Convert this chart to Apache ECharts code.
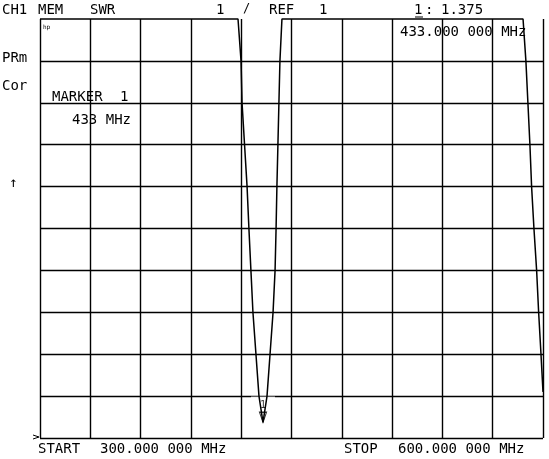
<!DOCTYPE html>
<html><head><meta charset="utf-8">
<script src="https://cdn.jsdelivr.net/npm/echarts@6/dist/echarts.min.js"></script>
<style>html,body{margin:0;padding:0;background:#fff;}#c{width:549px;height:459px;}</style>
</head><body><div id="c"></div>
<script>
// Trace: frequency (MHz) and SWR values (clipped at 11 by the instrument)
const freqMHz = [300, 418.1, 419.9, 420.5, 422.0, 423.5, 424.6, 425.8, 427.0, 428.8, 430.6, 433.0,
  435.4, 437.2, 439.0, 440.2, 440.8, 441.3, 441.9, 442.5, 443.1, 444.3,
  588.1, 589.8, 591.0, 592.2, 593.2, 594.6, 596.2, 597.4, 598.8, 600];
const swr = [11, 11, 10, 9, 8, 7, 6, 5, 4, 3, 2, 1.375,
  2, 3, 4, 5, 6, 7, 8, 9, 10, 11,
  11, 10, 9, 8, 7, 6, 5, 4, 3, 2.1];
const markerFreq = [433];
const markerSwr = [1.375];
const startMHz = 300, stopMHz = 600;
const refValue = 1, scalePerDiv = 1, divisions = 10;

const chart = echarts.init(document.getElementById('c'), null, {renderer: 'canvas'});
const F = "'DejaVu Sans Mono', 'Liberation Mono', monospace";
function t(x, y, s, size) {
  return {type: 'text', left: x, top: y, style: {text: s, font: (size || 14) + 'px ' + F, fill: '#000'}};
}
const lineStyle = {color: '#000', width: 1.4};
chart.setOption({
  animation: false,
  backgroundColor: '#fff',
  grid: {left: 40, right: 6, top: 19, bottom: 21},
  xAxis: {type: 'value', min: startMHz, max: stopMHz, interval: (stopMHz - startMHz) / divisions,
    axisLine: {show: false}, axisTick: {show: false}, axisLabel: {show: false},
    splitLine: {show: true, lineStyle: lineStyle}},
  yAxis: {type: 'value', min: refValue, max: refValue + scalePerDiv * divisions, interval: scalePerDiv,
    axisLine: {show: false}, axisTick: {show: false}, axisLabel: {show: false},
    splitLine: {show: true, showMaxLine: false, lineStyle: lineStyle}},
  series: [
    {type: 'line', data: freqMHz.map((f, i) => [f, swr[i]]), showSymbol: false, symbol: 'none',
      lineStyle: {color: '#000', width: 1.5}, clip: false, z: 3},
    {type: 'scatter', data: markerFreq.map((f, i) => [f, markerSwr[i]]), symbol: 'triangle', symbolRotate: 180,
      symbolSize: [7, 10], symbolOffset: [0, -5], itemStyle: {color: '#fff', borderColor: '#000', borderWidth: 1.2}, z: 2,
      label: {show: true, position: 'top', distance: 1, formatter: '1', color: '#000', fontFamily: F, fontSize: 10,
        backgroundColor: '#fff', padding: [4, 9, 0, 9]}}
  ],
  graphic: [
    t(2, 3, 'CH1'), t(38, 3, 'MEM'), t(90, 3, 'SWR'), t(216, 3, '1'), t(243, 3, '/', 12),
    t(269, 3, 'REF'), t(319, 3, '1'),
    t(414, 3, '1'), t(425, 3, ':'), t(441, 3, '1.375'),
    {type: 'line', shape: {x1: 415, y1: 17, x2: 423, y2: 17}, style: {stroke: '#000', lineWidth: 1}},
    t(400, 25, '433.000 000 MHz'),
    t(43, 24, 'hp', 6),
    t(2, 51, 'PRm'), t(2, 79, 'Cor'),
    t(52, 90, 'MARKER'), t(120, 90, '1'),
    t(72, 113, '433 MHz'),
    t(9, 176, '↑'),
    t(38, 442, 'START'), t(100, 442, '300.000 000 MHz'),
    t(344, 442, 'STOP'), t(398, 442, '600.000 000 MHz'),
    {type: 'polyline', shape: {points: [[33, 435], [39, 437], [33, 439]]}, style: {stroke: '#000', fill: null, lineWidth: 1}}
  ]
});
</script></body></html>
